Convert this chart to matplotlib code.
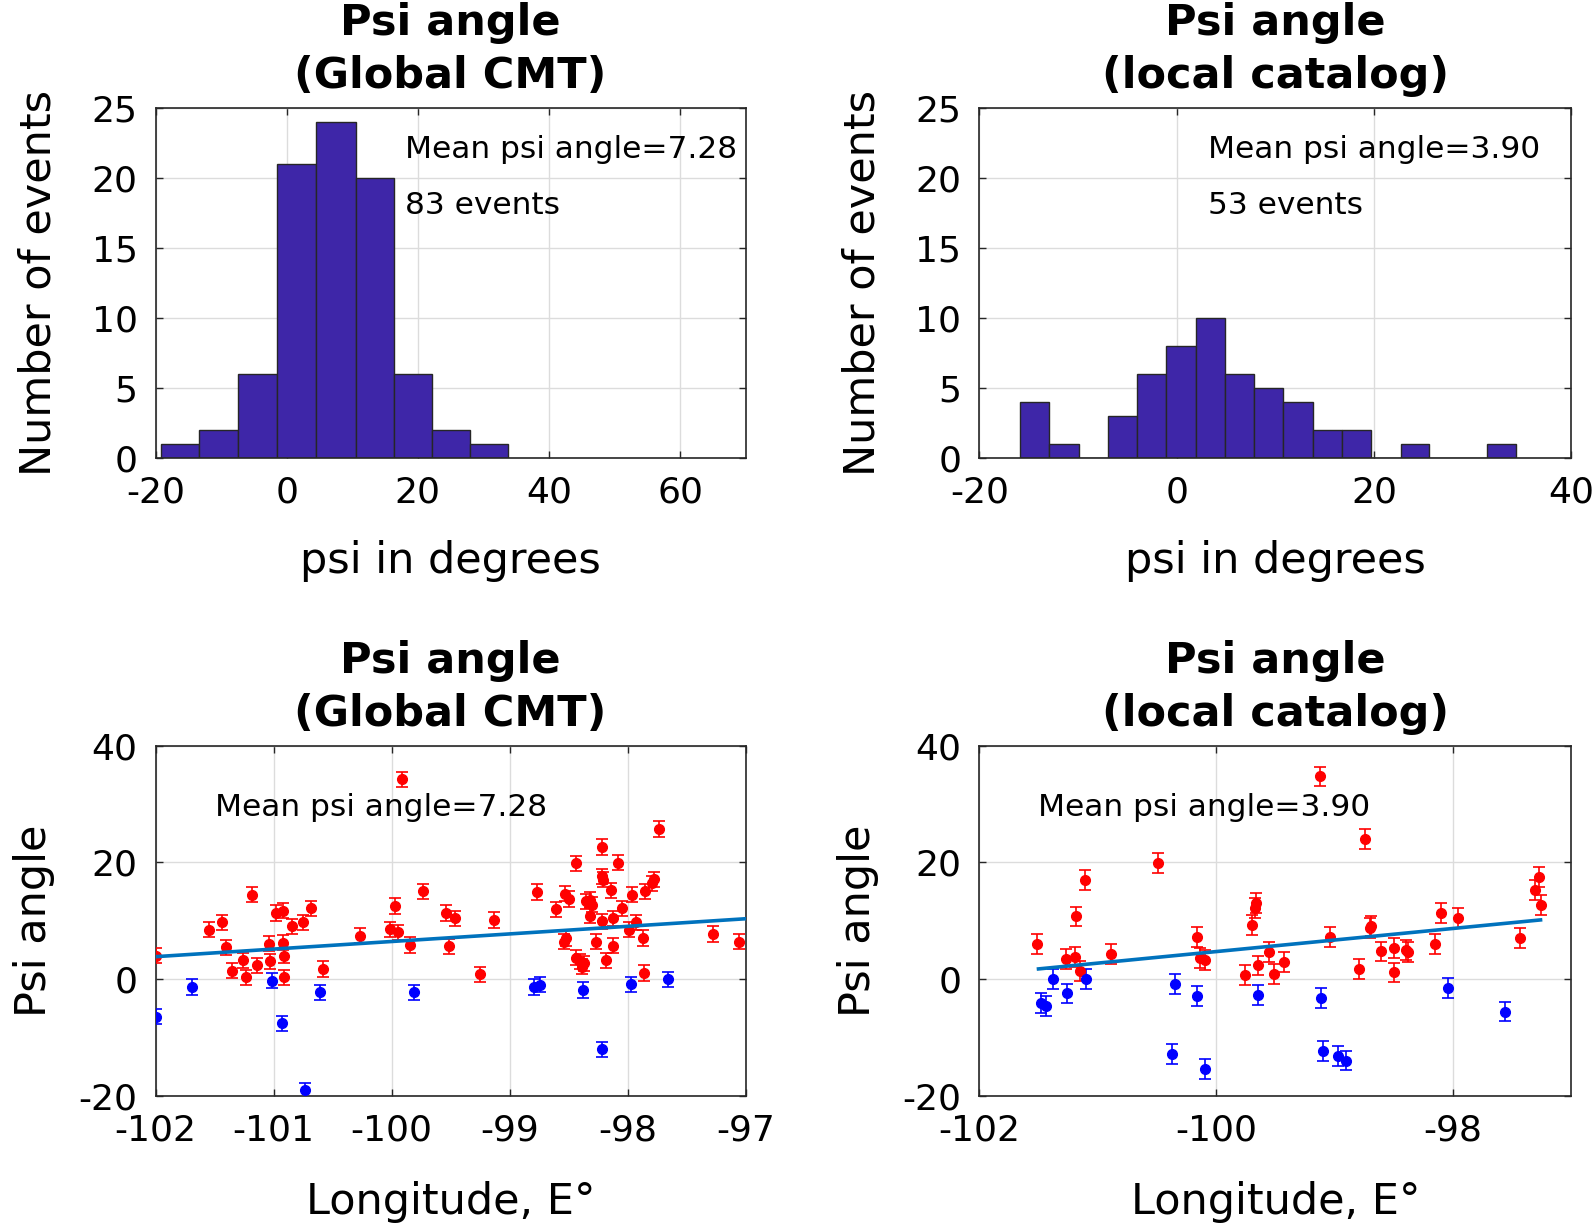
"""Psi angle histograms and psi vs longitude, Global CMT and local catalog."""
import numpy as np
import matplotlib
matplotlib.use("Agg")
import matplotlib.pyplot as plt

plt.rcParams["axes.unicode_minus"] = False

# --- histogram data (bin edges, counts per bin) ---
gcmt_edges = [-19.2, -13.4, -7.4, -1.5, 4.5, 10.5, 16.3, 22.2, 27.9, 33.7]
gcmt_counts = [1, 2, 6, 21, 24, 20, 6, 2, 1]
local_edges = [-15.9, -12.9, -9.9, -7.0, -4.0, -1.05, 1.95, 4.9, 7.85,
               10.8, 13.8, 16.8, 19.7, 22.7, 25.6, 28.6, 31.5, 34.4]
local_counts = [4, 1, 0, 3, 6, 8, 10, 6, 5, 4, 2, 2, 0, 1, 0, 0, 1]

# --- Global CMT, psi vs longitude ---
gcmt_red_lon = [-102.0, -101.55, -101.44, -101.40, -101.35, -101.26, -101.23,
                -101.18, -101.14, -101.04, -101.03, -100.98, -100.92, -100.92,
                -100.91, -100.91, -100.84, -100.75, -100.68, -100.58, -100.27,
                -99.97, -100.01, -99.95, -99.91, -99.84, -99.73, -99.54,
                -99.51, -99.46, -99.13, -99.25, -98.77, -98.61, -98.53,
                -98.50, -98.54, -98.52, -98.44, -98.44, -98.40, -98.39,
                -98.37, -98.35, -98.32, -98.30, -98.32, -98.27, -98.22,
                -98.22, -98.21, -98.22, -98.18, -98.14, -98.12, -98.12,
                -98.08, -98.05, -97.99, -97.96, -97.93, -97.87, -97.86,
                -97.85, -97.79, -97.78, -97.73, -97.28, -97.06]
gcmt_red_psi = [4.0, 8.4, 9.7, 5.4, 1.4, 3.2, 0.3,
                14.4, 2.3, 6.0, 3.0, 11.3, 11.7, 6.2,
                4.0, 0.3, 9.0, 9.7, 12.1, 1.7, 7.4,
                12.5, 8.5, 8.0, 34.2, 5.8, 15.0, 11.3,
                5.6, 10.4, 10.1, 0.8, 14.9, 11.9, 14.6,
                13.7, 6.4, 7.0, 19.8, 3.6, 3.0, 2.1,
                2.7, 13.3, 13.6, 12.7, 10.8, 6.4, 22.6,
                17.6, 17.0, 9.9, 3.2, 15.2, 5.7, 10.4,
                19.9, 12.1, 8.4, 14.4, 9.7, 7.0, 1.0,
                15.0, 16.4, 17.1, 25.7, 7.7, 6.4]
gcmt_blue_lon = [-102.0, -101.69, -101.01, -100.93, -100.73, -100.61, -99.81,
                 -98.79, -98.74, -98.38, -98.22, -97.97, -97.66]
gcmt_blue_psi = [-6.5, -1.4, -0.3, -7.6, -19.1, -2.3, -2.3,
                 -1.4, -1.0, -1.9, -12.1, -0.9, -0.1]
gcmt_fit_lon = [-102.0, -97.0]
gcmt_fit_psi = [3.8, 10.3]

# --- local catalog, psi vs longitude ---
local_red_lon = [-101.51, -101.27, -101.19, -101.18, -101.15, -101.11, -100.89,
                 -100.49, -100.16, -100.14, -100.09, -99.76, -99.70, -99.67,
                 -99.66, -99.65, -99.55, -99.51, -99.43, -99.04, -99.12,
                 -98.79, -98.74, -98.70, -98.69, -98.61, -98.50, -98.50,
                 -98.40, -98.38, -98.15, -98.10, -97.96, -97.43, -97.31,
                 -97.27, -97.26]
local_red_psi = [6.0, 3.4, 3.8, 10.7, 1.4, 16.9, 4.2,
                 19.8, 7.2, 3.6, 3.2, 0.6, 9.3, 12.1,
                 13.0, 2.3, 4.6, 0.8, 2.9, 7.2, 34.7,
                 1.7, 24.0, 8.7, 9.0, 4.7, 5.3, 1.1,
                 5.0, 4.6, 6.0, 11.3, 10.4, 7.0, 15.3,
                 17.5, 12.7]
local_blue_lon = [-101.48, -101.44, -101.38, -101.26, -101.10, -100.35, -100.37,
                  -100.16, -100.09, -99.65, -99.11, -99.10, -98.97, -98.90,
                  -98.04, -97.56]
local_blue_psi = [-4.2, -4.6, 0.0, -2.5, 0.0, -0.9, -12.9,
                  -3.0, -15.5, -2.8, -3.3, -12.3, -13.2, -14.0,
                  -1.6, -5.6]
local_fit_lon = [-101.5, -97.26]
local_fit_psi = [1.7, 10.1]

gcmt_err = 1.3
local_err = 1.7
mean_gcmt = 7.28
mean_local = 3.90

AX_COL = "#262626"
BAR_COL = "#3E26A8"
TICK_FS = 26
LABEL_FS = 31
TITLE_FS = 31
TEXT_FS = 22.5


def style_axes(ax):
    ax.grid(True, color="#dcdcdc", lw=1.0)
    ax.set_axisbelow(True)
    ax.tick_params(direction="in", top=True, right=True, length=5,
                   width=1.0, color=AX_COL, labelcolor="black",
                   labelsize=TICK_FS, pad=13)
    for s in ax.spines.values():
        s.set_color(AX_COL)
        s.set_linewidth(1.2)


def set_title(ax, title):
    ax.set_title(title, fontsize=TITLE_FS, fontweight="bold", pad=14,
                 linespacing=1.35)


def plot_hist(ax, edges, counts, xlim, xticks, title, mean, nev, tx):
    edges = np.asarray(edges)
    ax.bar(edges[:-1], counts, width=np.diff(edges), align="edge",
           color=BAR_COL, edgecolor=AX_COL, lw=1.0, zorder=2)
    ax.set_xlim(xlim)
    ax.set_ylim(0, 25)
    ax.set_xticks(xticks)
    ax.set_yticks([0, 5, 10, 15, 20, 25])
    style_axes(ax)
    ax.text(tx, 22, "Mean psi angle=%.2f" % mean, fontsize=TEXT_FS,
            va="center", ha="left")
    ax.text(tx, 18, "%d events" % nev, fontsize=TEXT_FS,
            va="center", ha="left")
    ax.set_xlabel("psi in degrees", fontsize=LABEL_FS, labelpad=22)
    ax.set_ylabel("Number of events", fontsize=LABEL_FS, labelpad=23)
    set_title(ax, title)


def plot_lon(ax, rlon, rpsi, blon, bpsi, flon, fpsi, err, xticks, title, mean):
    ax.errorbar(rlon, rpsi, yerr=err, fmt="o", color="red", ms=7,
                capsize=4.5, elinewidth=1.2, capthick=1.2, zorder=3)
    ax.errorbar(blon, bpsi, yerr=err, fmt="o", color="blue", ms=7,
                capsize=4.5, elinewidth=1.2, capthick=1.2, zorder=3)
    ax.plot(flon, fpsi, color="#0072BD", lw=2.6, zorder=4)
    ax.set_xlim(-102, -97)
    ax.set_ylim(-20, 40)
    ax.set_xticks(xticks)
    ax.set_yticks([-20, 0, 20, 40])
    style_axes(ax)
    ax.text(-101.5, 29.4, "Mean psi angle=%.2f" % mean, fontsize=TEXT_FS,
            va="center", ha="left")
    ax.set_xlabel("Longitude, E\u00b0", fontsize=LABEL_FS, labelpad=24)
    ax.set_ylabel("Psi angle", fontsize=LABEL_FS, labelpad=17)
    set_title(ax, title)


fig = plt.figure(figsize=(15.95, 12.24), dpi=100)
W, H = 1595.0, 1224.0
ax1 = fig.add_axes([155.6 / W, 1 - 457.7 / H, 590 / W, 350 / H])
ax2 = fig.add_axes([979.3 / W, 1 - 457.7 / H, 592 / W, 350 / H])
ax3 = fig.add_axes([155.6 / W, 1 - 1095.5 / H, 590 / W, 350 / H])
ax4 = fig.add_axes([979.3 / W, 1 - 1095.5 / H, 592 / W, 350 / H])

plot_hist(ax1, gcmt_edges, gcmt_counts, (-20, 70), [-20, 0, 20, 40, 60],
          "Psi angle\n(Global CMT)", mean_gcmt, sum(gcmt_counts), 18)
plot_hist(ax2, local_edges, local_counts, (-20, 40), [-20, 0, 20, 40],
          "Psi angle\n(local catalog)", mean_local, sum(local_counts), 3.2)
plot_lon(ax3, gcmt_red_lon, gcmt_red_psi, gcmt_blue_lon, gcmt_blue_psi,
         gcmt_fit_lon, gcmt_fit_psi, gcmt_err, [-102, -101, -100, -99, -98, -97],
         "Psi angle\n(Global CMT)", mean_gcmt)
plot_lon(ax4, local_red_lon, local_red_psi, local_blue_lon, local_blue_psi,
         local_fit_lon, local_fit_psi, local_err, [-102, -100, -98],
         "Psi angle\n(local catalog)", mean_local)

fig.savefig("out.png", dpi=100)
